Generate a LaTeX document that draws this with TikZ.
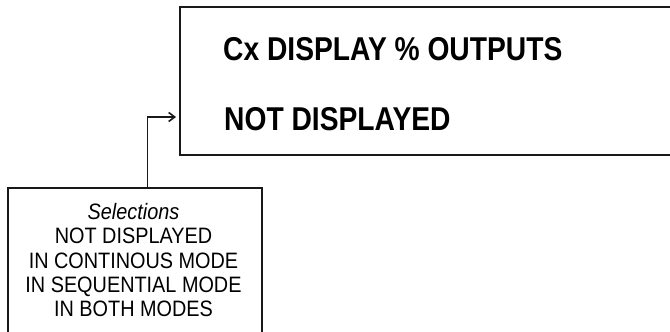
\documentclass[tikz,border=0pt]{standalone}
\usepackage{fontspec}
\setmainfont{Liberation Sans}
\newfontfamily\dispfont[FakeStretch=0.855]{Liberation Sans}
\newfontfamily\selfont[FakeStretch=0.89]{Liberation Sans}
\usetikzlibrary{arrows.meta}

\begin{document}
\begin{tikzpicture}[x=1pt,y=-1pt,
    panel/.style={draw=black!90,line width=2pt,rectangle,inner sep=0pt},
    disptext/.style={anchor=base west,inner sep=0pt,text=black,font=\dispfont\bfseries\fontsize{33}{38}\selectfont},
    seltext/.style={anchor=base,inner sep=0pt,text=black,font=\selfont\fontsize{22.3}{24}\selectfont}]
  \useasboundingbox (0,0) rectangle (670,332);

  % Display window (runs off the right edge)
  \node[panel,anchor=north west,minimum width=520pt,minimum height=148.5pt] (display) at (179,5.5) {};
  \node[disptext] (title) at (223,60) {Cx DISPLAY \% OUTPUTS};
  \node[disptext] (value) at (224,130) {NOT DISPLAYED};

  % Selections list (runs off the bottom edge)
  \node[panel,anchor=north west,minimum width=254pt,minimum height=160pt] (choices) at (7,187) {};
  \node[seltext] (head) at (133.5,219) {\itshape Selections};
  \node[seltext] (opta) at (133.5,243) {NOT DISPLAYED};
  \node[seltext] (optb) at (133.5,268) {IN CONTINOUS MODE};
  \node[seltext] (optc) at (133.5,292) {IN SEQUENTIAL MODE};
  \node[seltext] (optd) at (133.5,316) {IN BOTH MODES};

  % Connector from the list up to the display
  \coordinate (bend) at (147.5,117);
  \draw[black!90,line width=1.6pt,-{Straight Barb[length=6pt,width=9pt]}]
    (choices.north west -| bend) -- (bend) -- ([xshift=-3pt]bend -| display.west);
\end{tikzpicture}
\end{document}
